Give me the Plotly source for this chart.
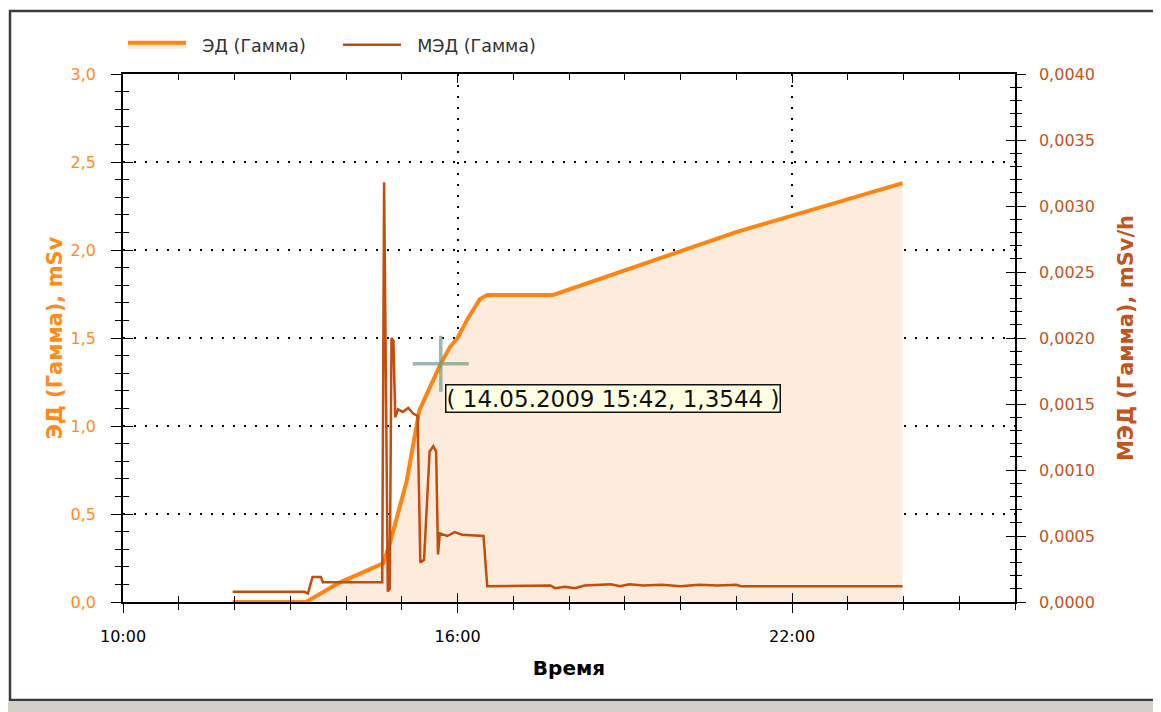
import plotly.graph_objects as go

# ЭД (Гамма), mSv  -- accumulated dose, 14.05.2009
ed_time = [
    "2009-05-14 11:58", "2009-05-14 13:17", "2009-05-14 13:53", "2009-05-14 14:36",
    "2009-05-14 14:40", "2009-05-14 14:47", "2009-05-14 15:05", "2009-05-14 15:19",
    "2009-05-14 15:28", "2009-05-14 15:42", "2009-05-14 15:52", "2009-05-14 16:00",
    "2009-05-14 16:11", "2009-05-14 16:24", "2009-05-14 16:32", "2009-05-14 17:43",
    "2009-05-14 20:59", "2009-05-14 23:59",
]
ed_value = [
    0.0, 0.0, 0.11, 0.21,
    0.22, 0.33, 0.68, 1.09,
    1.19, 1.3544, 1.45, 1.50,
    1.61, 1.72, 1.745, 1.745,
    2.10, 2.38,
]

# МЭД (Гамма), mSv/h  -- dose rate
med_time = [
    "2009-05-14 11:58", "2009-05-14 13:15", "2009-05-14 13:19", "2009-05-14 13:22",
    "2009-05-14 13:24", "2009-05-14 13:33", "2009-05-14 13:35", "2009-05-14 14:39",
    "2009-05-14 14:41", "2009-05-14 14:45", "2009-05-14 14:47", "2009-05-14 14:49",
    "2009-05-14 14:51", "2009-05-14 14:53", "2009-05-14 14:56", "2009-05-14 15:01",
    "2009-05-14 15:07", "2009-05-14 15:12", "2009-05-14 15:17", "2009-05-14 15:20",
    "2009-05-14 15:24", "2009-05-14 15:30", "2009-05-14 15:34", "2009-05-14 15:37",
    "2009-05-14 15:39", "2009-05-14 15:41", "2009-05-14 15:49", "2009-05-14 15:57",
    "2009-05-14 16:05", "2009-05-14 16:28", "2009-05-14 16:32", "2009-05-14 17:40",
    "2009-05-14 17:45", "2009-05-14 17:56", "2009-05-14 18:06", "2009-05-14 18:17",
    "2009-05-14 18:33", "2009-05-14 18:45", "2009-05-14 18:55", "2009-05-14 19:05",
    "2009-05-14 19:20", "2009-05-14 19:40", "2009-05-14 20:00", "2009-05-14 20:20",
    "2009-05-14 20:40", "2009-05-14 21:00", "2009-05-14 21:05", "2009-05-14 23:59",
]
med_value = [
    0.000077, 0.000077, 0.000065, 0.00015,
    0.00019, 0.00019, 0.00015, 0.00015,
    0.00318, 0.00008, 0.00010, 0.00200,
    0.00198, 0.00140, 0.00146, 0.00144,
    0.00147, 0.00143, 0.00141, 0.00030,
    0.00032, 0.00114, 0.00118, 0.00114,
    0.00036, 0.00052, 0.00050, 0.00053,
    0.00051, 0.00050, 0.00012, 0.000125,
    0.000105, 0.000115, 0.000105, 0.000125,
    0.00013, 0.000135, 0.00012, 0.000135,
    0.000125, 0.00013, 0.00012, 0.00013,
    0.000125, 0.00013, 0.00012, 0.00012,
]

cursor_time = "2009-05-14 15:42"
cursor_value = 1.3544
cursor_label = "( 14.05.2009 15:42, 1,3544 )"

x_range = ["2009-05-14 10:00", "2009-05-15 02:00"]
ed_range = [0, 3.0]
med_range = [0, 0.004]

ED_COLOR = "#FF8412"
MED_COLOR = "#C44C0C"
FONT = "DejaVu Sans"
HOUR = 3600000
PAD = "\u00a0\u00a0"  # extra gap between legend line and label

fig = go.Figure()

fig.add_trace(go.Scatter(
    x=ed_time, y=ed_value, name=PAD + "ЭД (Гамма)",
    mode="lines", line=dict(color=ED_COLOR, width=4),
    fill="tozeroy", fillcolor="#FDEBDC",
))
fig.add_trace(go.Scatter(
    x=med_time, y=med_value, name=PAD + "МЭД (Гамма)", yaxis="y2",
    mode="lines", line=dict(color=MED_COLOR, width=2.5),
))
# cursor cross
fig.add_trace(go.Scatter(
    x=[cursor_time], y=[cursor_value], mode="markers", showlegend=False,
    marker=dict(symbol="cross-thin", size=40,
                line=dict(color="rgba(110,155,140,0.7)", width=3.5)),
    hoverinfo="skip",
))
# empty traces holding the inner tick axes
fig.add_trace(go.Scatter(x=[], y=[], xaxis="x2", yaxis="y3", mode="none",
                         showlegend=False, hoverinfo="skip"))
fig.add_trace(go.Scatter(x=[], y=[], xaxis="x", yaxis="y4", mode="none",
                         showlegend=False, hoverinfo="skip"))

fig.add_annotation(
    x=cursor_time, y=cursor_value, text=cursor_label, showarrow=False,
    xanchor="left", yanchor="top", xshift=4, yshift=-20,
    font=dict(family=FONT, size=23, color="#111"),
    bgcolor="#FFFFE1", bordercolor="#111", borderwidth=1.5, borderpad=0,
)

tick_font = dict(family=FONT, size=16)
dot_grid = "2px,9px"

fig.update_layout(
    width=1161, height=712,
    margin=dict(l=115, r=154, t=66, b=118),
    paper_bgcolor="white", plot_bgcolor="white",
    separators=", ",
    font=dict(family=FONT, color="#222"),
    showlegend=True,
    legend=dict(orientation="h", x=0.0, y=1.055, xanchor="left", yanchor="middle",
                font=dict(family=FONT, size=17.5, color="#333"),
                itemwidth=58, entrywidth=142, bgcolor="rgba(0,0,0,0)"),
    xaxis=dict(
        type="date", range=x_range, tick0=x_range[0], dtick=6 * HOUR,
        tickformat="%H:%M", ticks="outside", ticklen=9, tickcolor="black",
        tickfont=dict(color="black", **tick_font), ticklabelstandoff=10,
        minor=dict(ticks="outside", ticklen=6, dtick=HOUR, tickcolor="black"),
        showline=True, linecolor="black", linewidth=1.5, mirror=True,
        showgrid=True, gridcolor="black", gridwidth=1.5, griddash=dot_grid,
        zeroline=False,
        title=dict(text="Время", standoff=16,
                   font=dict(family=FONT, size=20, color="black", weight="bold")),
    ),
    xaxis2=dict(
        type="date", range=x_range, overlaying="x", anchor="y", side="bottom",
        tick0=x_range[0], dtick=6 * HOUR, ticks="inside", ticklen=9,
        tickcolor="black", showticklabels=False, mirror="ticks",
        minor=dict(ticks="inside", ticklen=6, dtick=HOUR, tickcolor="black"),
        showgrid=False, zeroline=False, showline=False,
    ),
    yaxis=dict(
        range=ed_range, dtick=0.5, tickformat=".1f",
        ticks="outside", ticklen=10, tickcolor="black",
        tickfont=dict(color="#FF8C1A", **tick_font), ticklabelstandoff=12,
        minor=dict(ticks="outside", ticklen=6, dtick=0.1, tickcolor="black"),
        showline=True, linecolor="black", linewidth=1.5,
        showgrid=True, gridcolor="black", gridwidth=1.5, griddash=dot_grid,
        zeroline=False,
        title=dict(text="ЭД (Гамма), mSv", standoff=2,
                   font=dict(family=FONT, size=21, color="#FF8C1A", weight="bold")),
    ),
    yaxis3=dict(
        range=ed_range, overlaying="y", anchor="x", side="left",
        dtick=0.5, ticks="inside", ticklen=10, tickcolor="black",
        showticklabels=False,
        minor=dict(ticks="inside", ticklen=6, dtick=0.1, tickcolor="black"),
        showgrid=False, zeroline=False, showline=False,
    ),
    yaxis2=dict(
        range=med_range, overlaying="y", anchor="x", side="right",
        dtick=0.0005, tickformat=".4f",
        ticks="outside", ticklen=9, tickcolor="black",
        tickfont=dict(color="#C5531C", **tick_font), ticklabelstandoff=10,
        minor=dict(ticks="outside", ticklen=5, dtick=0.0001, tickcolor="black"),
        showline=True, linecolor="black", linewidth=1.5,
        showgrid=False, zeroline=False,
        title=dict(text="МЭД (Гамма), mSv/h", standoff=24,
                   font=dict(family=FONT, size=21, color="#C5531C", weight="bold")),
    ),
    yaxis4=dict(
        range=med_range, overlaying="y", anchor="x", side="right",
        dtick=0.0005, ticks="inside", ticklen=9, tickcolor="black",
        showticklabels=False,
        minor=dict(ticks="inside", ticklen=5, dtick=0.0001, tickcolor="black"),
        showgrid=False, zeroline=False, showline=False,
    ),
)

# window frame around the chart
fig.add_shape(type="rect", xref="paper", yref="paper",
              x0=(1157 - 123) / 892, x1=1.2, y0=-0.3, y1=1.3,
              fillcolor="#D4D0C8", line_width=0, layer="below")
fig.add_shape(type="rect", xref="paper", yref="paper",
              x0=-0.2, x1=1.2, y0=(602 - 720) / 528, y1=(602 - 702) / 528,
              fillcolor="#D4D0C8", line_width=0, layer="below")
fig.add_shape(type="rect", xref="paper", yref="paper",
              x0=(10 - 123) / 892, x1=(1155 - 123) / 892,
              y0=(602 - 700) / 528, y1=(602 - 11) / 528,
              line=dict(color="#3C3C3C", width=2.5), layer="below")

fig.write_html("out.html")
